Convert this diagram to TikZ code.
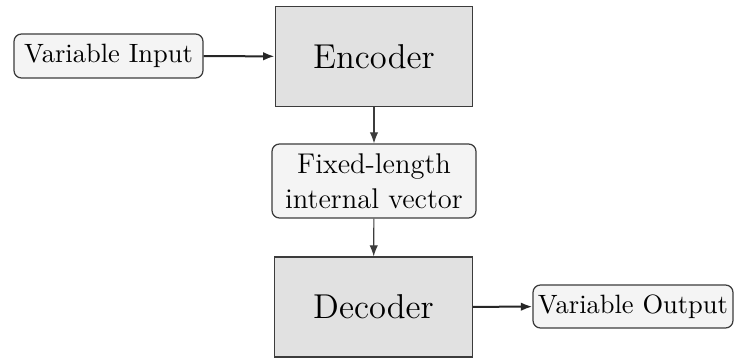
\documentclass[tikz,border=0pt]{standalone}
\usetikzlibrary{arrows.meta}
\definecolor{boxline}{HTML}{3C3C3C}
\definecolor{blockfill}{HTML}{E1E1E1}
\definecolor{tagfill}{HTML}{F4F4F4}
\begin{document}
\begin{tikzpicture}[x=0.4pt,y=-0.4pt,
  block/.style={draw=boxline, line width=0.5pt, fill=blockfill, inner sep=0pt,
    minimum width=79pt, minimum height=40pt, font=\fontsize{13.8}{16}\selectfont},
  tag/.style={draw=boxline, line width=0.5pt, fill=tagfill, rounded corners=3pt,
    inner sep=0pt, font=\fontsize{10.6}{13.8}\selectfont, align=center},
  thinarrow/.style={draw=boxline, line width=0.45pt, -{Latex[length=4.4pt,width=3.4pt]}},
  thickarrow/.style={draw=black!85, line width=0.8pt, -{Latex[length=4.6pt,width=3.4pt]}}]
\useasboundingbox (0,0) rectangle (736,358);
\node[tag, minimum width=75.6pt, minimum height=17.6pt] (in) at (108.5,56) {Variable Input};
\node[block] (enc) at (374,56.5) {Encoder};
\node[tag, minimum width=81.6pt, minimum height=29.6pt,
  font=\fontsize{11.4}{14}\selectfont] (fix) at (374,181) {Fixed-length\\internal vector};
\node[block] (dec) at (373.5,307) {Decoder};
\node[tag, minimum width=80pt, minimum height=17.2pt] (out) at (633,306.5) {Variable Output};
\draw[thickarrow] (in) -- (enc);
\draw[thinarrow] (enc) -- (fix);
\draw[thinarrow] (fix) -- (dec);
\draw[thickarrow] (dec) -- (out);
\end{tikzpicture}
\end{document}
